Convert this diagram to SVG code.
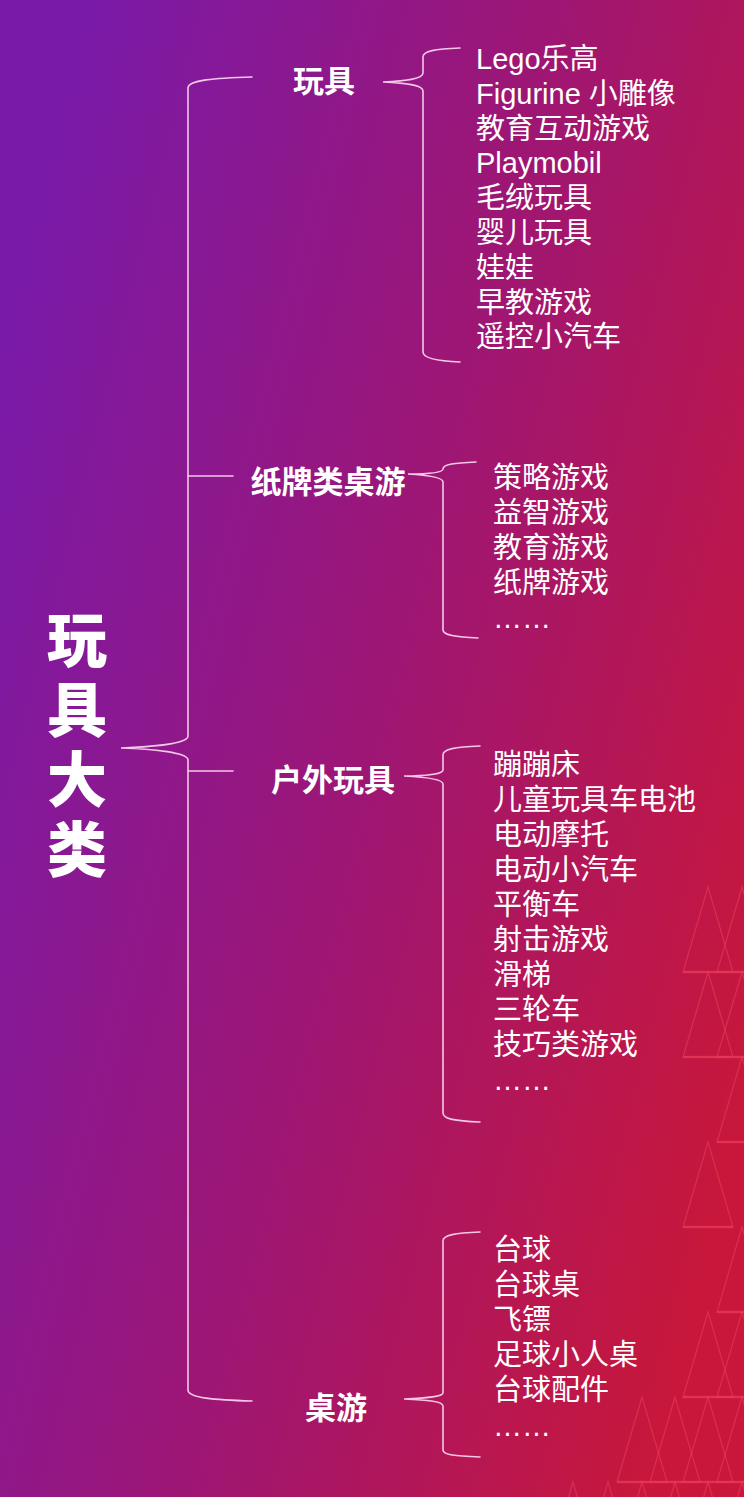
<svg xmlns="http://www.w3.org/2000/svg" width="744" height="1497" viewBox="0 0 744 1497">
<defs>
<linearGradient id="bg" x1="0" y1="0.25" x2="1" y2="0.75">
<stop offset="0" stop-color="#7a1aa8"/>
<stop offset="0.5" stop-color="#9e1674"/>
<stop offset="1" stop-color="#c8173a"/>
</linearGradient>
<path id="tri" d="M0,0 L-25,85 L25,85 Z"/>
</defs>
<style>
.br{fill:none;stroke:#f4c8e6;stroke-width:1.6;stroke-linecap:round}
.tri{fill:none;stroke:#ee3d5e;stroke-opacity:0.55;stroke-width:1.3}
.base{fill:none;stroke:#ee3d5e;stroke-opacity:0.5;stroke-width:2.5}
.title{font-family:"Noto Sans CJK SC",sans-serif;font-weight:900;font-size:60px;fill:#fff;writing-mode:vertical-rl;letter-spacing:10px}
.cat{font-family:"Noto Sans CJK SC",sans-serif;font-weight:700;font-size:31px;fill:#fff;text-anchor:middle}
.leaf{font-family:"Liberation Sans","Noto Sans CJK SC",sans-serif;font-weight:400;font-size:29px;fill:#fff}
</style>
<rect width="744" height="1497" fill="url(#bg)"/>
<g id="triangles">
<use href="#tri" class="tri" x="708" y="887"/><use href="#tri" class="tri" x="742" y="887"/>
<use href="#tri" class="tri" x="708" y="972"/><use href="#tri" class="tri" x="742" y="972"/>
<use href="#tri" class="tri" x="742" y="1057"/>
<use href="#tri" class="tri" x="708" y="1142"/>
<use href="#tri" class="tri" x="742" y="1227"/>
<use href="#tri" class="tri" x="708" y="1312"/><use href="#tri" class="tri" x="742" y="1312"/>
<use href="#tri" class="tri" x="642" y="1397"/><use href="#tri" class="tri" x="675" y="1397"/><use href="#tri" class="tri" x="708" y="1397"/><use href="#tri" class="tri" x="742" y="1397"/>
<use href="#tri" class="tri" x="573" y="1482"/><use href="#tri" class="tri" x="608" y="1482"/><use href="#tri" class="tri" x="642" y="1482"/><use href="#tri" class="tri" x="675" y="1482"/><use href="#tri" class="tri" x="708" y="1482"/><use href="#tri" class="tri" x="742" y="1482"/>
<path class="base" d="M683,972H744M683,1057H744M717,1142H744M683,1227H733M717,1312H744M683,1397H744M617,1482H744"/>
</g>
<g id="connectors">
<path class="br" d="M252,77 C215,78 188,80 188,88 L188,736 C188,744 150,747 121,748 C150,749 188,752 188,760 L188,1390 C188,1398 215,1400 252,1401"/>
<path class="br" d="M188,476 H233 M188,771 H233"/>
<path class="br" d="M460,48 C435,49 423,51 423,57 L423,73 C423,79 405,81 383,82 C405,83 423,85 423,91 L423,352 C423,358 435,361 460,362"/>
<path class="br" d="M476,462 C455,463 443,464 443,469 C443,473 425,474 408,474 C425,475 443,477 443,482 L443,630 C443,635 455,637 478,638"/>
<path class="br" d="M480,746 C455,747 443,749 443,755 L443,770 C443,774 425,776 404,776 C425,777 443,779 443,784 L443,1113 C443,1119 455,1121 480,1122"/>
<path class="br" d="M480,1232 C455,1233 443,1235 443,1241 L443,1393 C443,1397 425,1398 404,1399 C425,1400 443,1401 443,1406 L443,1450 C443,1455 455,1456 480,1457"/>
</g>
<g id="root">
<text class="title" x="77" y="609">玩具大类</text>
</g>
<g id="cat-toys"><text class="cat" x="324" y="92">玩具</text></g>
<g id="cat-cards"><text class="cat" x="328" y="493">纸牌类桌游</text></g>
<g id="cat-outdoor"><text class="cat" x="333" y="791">户外玩具</text></g>
<g id="cat-board"><text class="cat" x="336" y="1419">桌游</text></g>
<g id="leaves-toys">
<text class="leaf"><tspan x="476" y="69">Lego乐高</tspan><tspan x="476" y="104">Figurine 小雕像</tspan><tspan x="476" y="139">教育互动游戏</tspan><tspan x="476" y="173">Playmobil</tspan><tspan x="476" y="208">毛绒玩具</tspan><tspan x="476" y="243">婴儿玩具</tspan><tspan x="476" y="278">娃娃</tspan><tspan x="476" y="313">早教游戏</tspan><tspan x="476" y="347">遥控小汽车</tspan></text>
</g>
<g id="leaves-cards">
<text class="leaf"><tspan x="493" y="488">策略游戏</tspan><tspan x="493" y="523">益智游戏</tspan><tspan x="493" y="558">教育游戏</tspan><tspan x="493" y="593">纸牌游戏</tspan><tspan x="493" y="628">……</tspan></text>
</g>
<g id="leaves-outdoor">
<text class="leaf"><tspan x="493" y="775">蹦蹦床</tspan><tspan x="493" y="810">儿童玩具车电池</tspan><tspan x="493" y="845">电动摩托</tspan><tspan x="493" y="880">电动小汽车</tspan><tspan x="493" y="915">平衡车</tspan><tspan x="493" y="950">射击游戏</tspan><tspan x="493" y="985">滑梯</tspan><tspan x="493" y="1020">三轮车</tspan><tspan x="493" y="1055">技巧类游戏</tspan><tspan x="493" y="1090">……</tspan></text>
</g>
<g id="leaves-board">
<text class="leaf"><tspan x="493" y="1260">台球</tspan><tspan x="493" y="1295">台球桌</tspan><tspan x="493" y="1330">飞镖</tspan><tspan x="493" y="1365">足球小人桌</tspan><tspan x="493" y="1400">台球配件</tspan><tspan x="493" y="1436">……</tspan></text>
</g>
</svg>
